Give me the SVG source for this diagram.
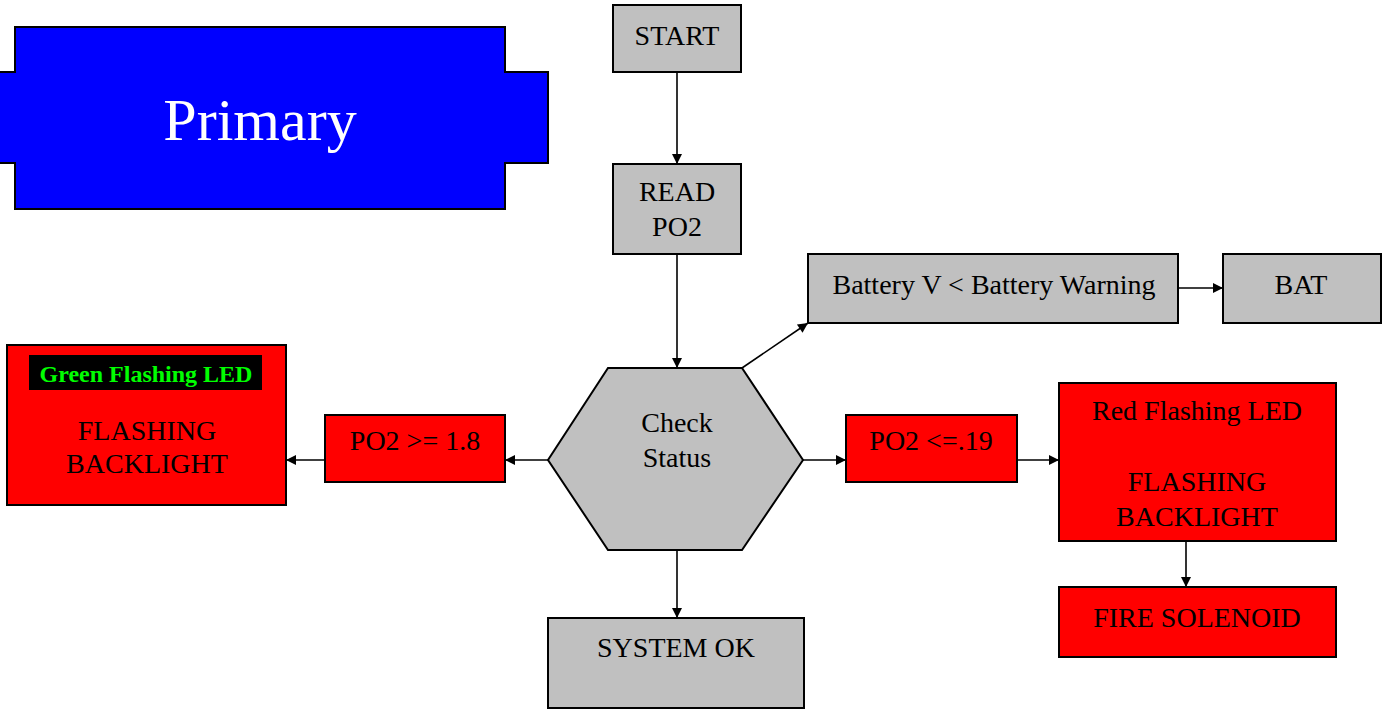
<svg xmlns="http://www.w3.org/2000/svg" width="1382" height="712" viewBox="0 0 1382 712">
<style>
.box{stroke:#000;stroke-width:2}
.gray{fill:#c0c0c0}
.red{fill:#ff0000}
text{font-family:"Liberation Serif",Tinos,"Times New Roman",Times,"DejaVu Serif",serif}
.t{font-size:28px;fill:#000;text-anchor:middle}
.c{stroke:#000;stroke-width:1.6;fill:none;marker-end:url(#ah)}
</style>
<defs>
<marker id="ah" viewBox="0 0 10 10" refX="10" refY="5" markerWidth="12" markerHeight="10" markerUnits="userSpaceOnUse" orient="auto">
<path d="M0,0 L10,5 L0,10 z" fill="#000"/>
</marker>
</defs>
<rect width="1382" height="712" fill="#fff"/>
<g id="primary">
<path class="box" d="M15,27 H505 V72 H548 V163 H505 V209 H15 V163 H-2 V72 H15 Z" fill="#0000ff"/>
<text x="260" y="140" font-size="60" fill="#fff" text-anchor="middle">Primary</text>
</g>
<g id="connectors">
<line class="c" x1="677" y1="72" x2="677" y2="164"/>
<line class="c" x1="677" y1="254" x2="677" y2="368"/>
<line class="c" x1="742" y1="368" x2="808" y2="323"/>
<line class="c" x1="1178" y1="288" x2="1223" y2="288"/>
<line class="c" x1="548" y1="460" x2="505" y2="460"/>
<line class="c" x1="325" y1="460" x2="286" y2="460"/>
<line class="c" x1="803" y1="460" x2="846" y2="460"/>
<line class="c" x1="1017" y1="460" x2="1059" y2="460"/>
<line class="c" x1="1186" y1="541" x2="1186" y2="587"/>
<line class="c" x1="677" y1="550" x2="677" y2="618"/>
</g>
<g id="start">
<rect class="box gray" x="613" y="5" width="128" height="67"/>
<text class="t" x="677" y="45">START</text>
</g>
<g id="read">
<rect class="box gray" x="613" y="164" width="128" height="90"/>
<text class="t" x="677" y="201">READ</text>
<text class="t" x="677" y="236">PO2</text>
</g>
<g id="battery">
<rect class="box gray" x="808" y="254" width="370" height="69"/>
<text class="t" x="994" y="294">Battery V &lt; Battery Warning</text>
</g>
<g id="bat">
<rect class="box gray" x="1223" y="254" width="158" height="69"/>
<text class="t" x="1301" y="294">BAT</text>
</g>
<g id="check">
<polygon class="box gray" points="608,368 742,368 803,460 742,550 608,550 548,460"/>
<text class="t" x="677" y="432">Check</text>
<text class="t" x="677" y="467">Status</text>
</g>
<g id="po2high">
<rect class="box red" x="325" y="415" width="180" height="67"/>
<text class="t" x="415" y="450">PO2 &gt;= 1.8</text>
</g>
<g id="green">
<rect class="box red" x="7" y="345" width="279" height="160"/>
<rect x="29" y="355" width="233" height="35" fill="#000"/>
<text x="146" y="382" font-size="24" font-weight="bold" fill="#00ff00" text-anchor="middle">Green Flashing LED</text>
<text class="t" x="147" y="440">FLASHING</text>
<text class="t" x="147" y="473">BACKLIGHT</text>
</g>
<g id="po2low">
<rect class="box red" x="846" y="415" width="171" height="67"/>
<text class="t" x="931" y="450">PO2 &lt;=.19</text>
</g>
<g id="redled">
<rect class="box red" x="1059" y="383" width="277" height="158"/>
<text class="t" x="1197" y="420">Red Flashing LED</text>
<text class="t" x="1197" y="491">FLASHING</text>
<text class="t" x="1197" y="526">BACKLIGHT</text>
</g>
<g id="fire">
<rect class="box red" x="1059" y="587" width="277" height="70"/>
<text class="t" x="1197" y="627">FIRE SOLENOID</text>
</g>
<g id="systemok">
<rect class="box gray" x="548" y="618" width="256" height="90"/>
<text class="t" x="676" y="657">SYSTEM OK</text>
</g>
</svg>
